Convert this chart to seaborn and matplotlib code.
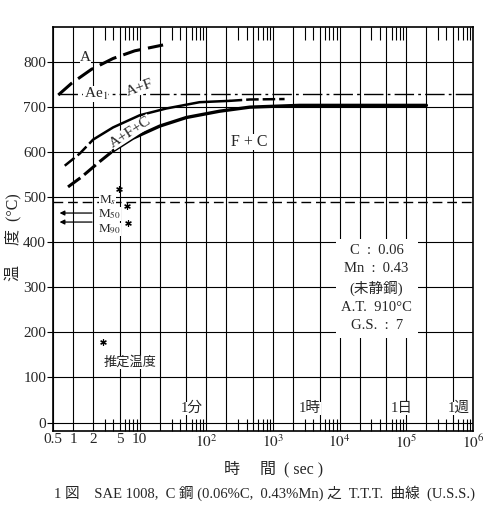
"""TTT diagram of SAE 1008 (0.06%C, 0.43%Mn) redrawn with seaborn."""

import matplotlib

matplotlib.use("Agg")
import matplotlib.pyplot as plt
import matplotlib.ticker as mticker
import numpy as np
import pandas as pd
import seaborn as sns

# --- data (time in s, temperature in degC) ---
a_time = [0.60, 0.95, 1.89, 3.98, 8.4, 22.4]
a_temp = [727, 753, 784, 808, 825, 838]

# start of ferrite (A+F) curve: dashed head, solid body, dashed tail
af_head_time = [0.75, 1.26, 2.0]
af_head_temp = [570, 597, 628]
af_body_time = [2.0, 3.98, 10, 25, 79, 224]
af_body_temp = [628, 655, 682, 697, 711, 714]
af_tail_time = [224, 447, 1490]
af_tail_temp = [714, 717, 718]

# finish curve (F+C)
fc_head_time = [0.84, 1.34, 2.5, 3.98]
fc_head_temp = [523, 545, 579, 603]
fc_body_time = [3.98, 7.9, 20, 50, 158, 447, 2500, 2.0e5]
fc_body_temp = [603, 631, 658, 677, 691, 700, 704, 704]

ae1_temp = 730
ae1_span = [0.60, 1e6]
ms_temp = 490
ms_span = [0.5, 1e6]
m50_temp = 465
m90_temp = 445
arrow_span = [2.12, 0.57]

star_time = [4.85, 6.4, 6.6, 2.8]
star_temp = [518, 480, 443, 179]

x_ticks = [0.5, 1, 2, 5, 10, 20, 50, 1e2, 2e2, 5e2, 1e3, 2e3, 5e3,
           1e4, 2e4, 5e4, 1e5, 2e5, 5e5, 1e6]
x_tick_labels = ["0.5", "1", "2", "5", "10", "", "", "$10^2$", "", "",
                 "$10^3$", "", "", "$10^4$", "", "", "$10^5$", "", "", "$10^6$"]
x_minor = [m * 10.0 ** k for k in range(6) for m in (3, 4, 6, 7, 8, 9)]
y_ticks = [0, 100, 200, 300, 400, 500, 600, 700, 800]

time_marks = [60, 3600, 86400, 604800]
time_mark_labels = ["1分", "1時", "1日", "1週"]

comp_lines = ["C  :  0.06", "Mn  :  0.43", "(未静鋼)", "A.T.  910°C", "G.S.  :  7"]


def curve(ax, t, temp, lw, ls):
    df = pd.DataFrame({"t": t, "temp": temp})
    sns.lineplot(data=df, x="t", y="temp", ax=ax, color="black", lw=lw,
                 linestyle=ls, sort=False, estimator=None)


def label(ax, x, y, s, size=11, rot=0, pad=0.1, **kw):
    ax.text(x, y, s, fontsize=size, rotation=rot, ha="center", va="center",
            rotation_mode="anchor", zorder=4,
            bbox=dict(facecolor="white", edgecolor="none", pad=pad), **kw)


def main() -> None:
    sns.set_theme(style="white")
    plt.rcParams["font.family"] = ["Liberation Serif", "Noto Sans CJK JP"]
    plt.rcParams["mathtext.fontset"] = "stix"

    fig = plt.figure(figsize=(5.0, 5.17), dpi=100)
    ax = fig.add_axes([0.106, 0.167, 0.840, 0.780])
    ax.set_xscale("log")
    ax.set_xlim(0.5, 1e6)
    ax.set_ylim(-18, 877)

    # curves
    curve(ax, a_time, a_temp, 2.2, (0, (6, 2.4)))
    curve(ax, af_head_time, af_head_temp, 1.8, (0, (5, 1.6)))
    curve(ax, af_body_time, af_body_temp, 1.8, "-")
    curve(ax, af_tail_time, af_tail_temp, 1.8, (0, (5, 1.6)))
    curve(ax, fc_head_time, fc_head_temp, 2.2, (0, (5, 1.6)))
    curve(ax, fc_body_time, fc_body_temp, 2.4, "-")
    curve(ax, ae1_span, [ae1_temp, ae1_temp], 1.0, (0, (14, 3, 2, 3)))
    curve(ax, ms_span, [ms_temp, ms_temp], 1.0, (0, (7, 3.5)))

    for temp in (m50_temp, m90_temp):
        ax.annotate("", xy=(arrow_span[1], temp), xytext=(arrow_span[0], temp),
                    arrowprops=dict(arrowstyle="-|>", color="black", lw=0.9,
                                    mutation_scale=7))

    sns.scatterplot(x=star_time, y=star_temp, marker=(6, 2, 0), s=16,
                    color="black", linewidth=0.9, ax=ax, zorder=5)

    # region labels
    label(ax, 1.55, 811, "A")
    label(ax, 2.19, 729, "Ae$_1$")
    label(ax, 10, 742, "A+F", rot=20)
    label(ax, 7.3, 645, "A+F+C", rot=33)
    label(ax, 446, 622, "F + C", size=11.5)
    label(ax, 3.3, 494, "M$_s$", size=9.5, pad=0)
    label(ax, 3.5, 462, "M$_{50}$", size=9.5, pad=0)
    label(ax, 3.5, 429, "M$_{90}$", size=9.5, pad=0)
    label(ax, 7.1, 134, "推定温度", size=9.5)
    for t, s in zip(time_marks, time_mark_labels):
        label(ax, t, 31, s, size=10.5)
    ax.text(35800, 298, "\n".join(comp_lines), fontsize=10.5, ha="center",
            va="center", multialignment="center", linespacing=1.5, zorder=4,
            bbox=dict(facecolor="white", edgecolor="none", pad=4))

    # axes, grid, ticks
    ax.set_xticks(x_ticks, x_tick_labels)
    ax.xaxis.set_minor_locator(mticker.FixedLocator(x_minor))
    ax.xaxis.set_minor_formatter(mticker.NullFormatter())
    ax.set_yticks(y_ticks)
    ax.grid(True, which="major", color="black", lw=0.8)
    ax.tick_params(axis="x", which="major", length=0, pad=2, labelsize=11)
    ax.tick_params(axis="x", which="minor", direction="in", length=9,
                   width=0.8, top=True, bottom=True, color="black")
    ax.tick_params(axis="y", which="major", direction="out", length=4,
                   width=0.8, left=True, pad=1, labelsize=11, color="black")
    for sp in ax.spines.values():
        sp.set_color("black")
        sp.set_linewidth(1.2)

    ax.set_xlabel("時　 間  ( sec )", fontsize=11.5)
    ax.xaxis.set_label_coords(0.525, -0.075)
    ax.set_ylabel("温　 度  (°C)", fontsize=11.5)
    ax.yaxis.set_label_coords(-0.072, 0.48)

    fig.text(0.53, 0.046,
             "1 図　SAE 1008,  C 鋼 (0.06%C,  0.43%Mn) 之  T.T.T.  曲線  (U.S.S.)",
             ha="center", va="center", fontsize=10.5)

    fig.savefig("out.png", dpi=100, facecolor="white")


if __name__ == "__main__":
    main()
